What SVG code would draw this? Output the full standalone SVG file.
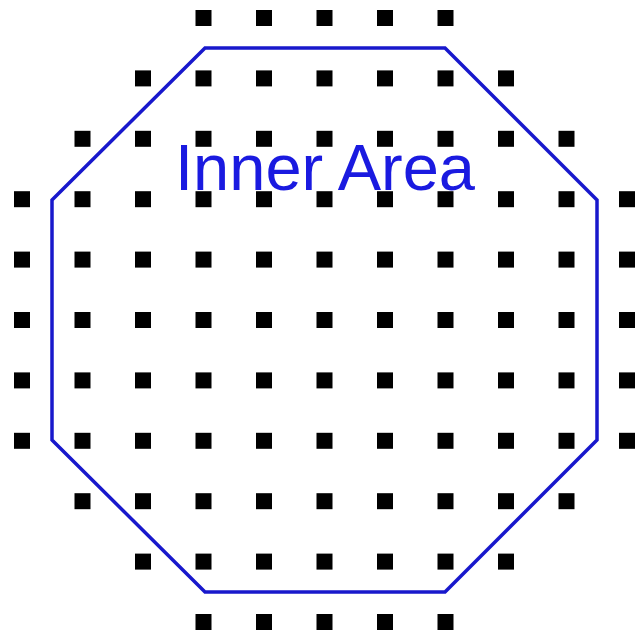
<svg xmlns="http://www.w3.org/2000/svg" xmlns:xlink="http://www.w3.org/1999/xlink" width="641" height="634" viewBox="0 0 641 634">
<style>
.area{fill:none;stroke:#1818cc;stroke-width:3.5;stroke-linejoin:miter}
.lbl{font-family:"Liberation Sans",Arial,sans-serif;font-size:65px;fill:#1a1ae0;text-anchor:middle}
</style>
<defs><rect id="d" x="-8" y="-8" width="16" height="16" fill="#000"/></defs>
<rect width="641" height="634" fill="#fff"/>
<g id="inner-area">
<polygon class="area" points="205,48 445,48 597,200 597,440 445,592 205,592 52,440 52,200"/>
<text class="lbl" x="325" y="190">Inner Area</text>
</g>
<g id="dots">
<use xlink:href="#d" x="203.5" y="18"/><use xlink:href="#d" x="264" y="18"/><use xlink:href="#d" x="324.5" y="18"/><use xlink:href="#d" x="385" y="18"/><use xlink:href="#d" x="445.5" y="18"/>
<use xlink:href="#d" x="143" y="78.4"/><use xlink:href="#d" x="203.5" y="78.4"/><use xlink:href="#d" x="264" y="78.4"/><use xlink:href="#d" x="324.5" y="78.4"/><use xlink:href="#d" x="385" y="78.4"/><use xlink:href="#d" x="445.5" y="78.4"/><use xlink:href="#d" x="506" y="78.4"/>
<use xlink:href="#d" x="82.5" y="138.8"/><use xlink:href="#d" x="143" y="138.8"/><use xlink:href="#d" x="203.5" y="138.8"/><use xlink:href="#d" x="264" y="138.8"/><use xlink:href="#d" x="324.5" y="138.8"/><use xlink:href="#d" x="385" y="138.8"/><use xlink:href="#d" x="445.5" y="138.8"/><use xlink:href="#d" x="506" y="138.8"/><use xlink:href="#d" x="566.5" y="138.8"/>
<use xlink:href="#d" x="22" y="199.2"/><use xlink:href="#d" x="82.5" y="199.2"/><use xlink:href="#d" x="143" y="199.2"/><use xlink:href="#d" x="203.5" y="199.2"/><use xlink:href="#d" x="264" y="199.2"/><use xlink:href="#d" x="324.5" y="199.2"/><use xlink:href="#d" x="385" y="199.2"/><use xlink:href="#d" x="445.5" y="199.2"/><use xlink:href="#d" x="506" y="199.2"/><use xlink:href="#d" x="566.5" y="199.2"/><use xlink:href="#d" x="627" y="199.2"/>
<use xlink:href="#d" x="22" y="259.6"/><use xlink:href="#d" x="82.5" y="259.6"/><use xlink:href="#d" x="143" y="259.6"/><use xlink:href="#d" x="203.5" y="259.6"/><use xlink:href="#d" x="264" y="259.6"/><use xlink:href="#d" x="324.5" y="259.6"/><use xlink:href="#d" x="385" y="259.6"/><use xlink:href="#d" x="445.5" y="259.6"/><use xlink:href="#d" x="506" y="259.6"/><use xlink:href="#d" x="566.5" y="259.6"/><use xlink:href="#d" x="627" y="259.6"/>
<use xlink:href="#d" x="22" y="320"/><use xlink:href="#d" x="82.5" y="320"/><use xlink:href="#d" x="143" y="320"/><use xlink:href="#d" x="203.5" y="320"/><use xlink:href="#d" x="264" y="320"/><use xlink:href="#d" x="324.5" y="320"/><use xlink:href="#d" x="385" y="320"/><use xlink:href="#d" x="445.5" y="320"/><use xlink:href="#d" x="506" y="320"/><use xlink:href="#d" x="566.5" y="320"/><use xlink:href="#d" x="627" y="320"/>
<use xlink:href="#d" x="22" y="380.4"/><use xlink:href="#d" x="82.5" y="380.4"/><use xlink:href="#d" x="143" y="380.4"/><use xlink:href="#d" x="203.5" y="380.4"/><use xlink:href="#d" x="264" y="380.4"/><use xlink:href="#d" x="324.5" y="380.4"/><use xlink:href="#d" x="385" y="380.4"/><use xlink:href="#d" x="445.5" y="380.4"/><use xlink:href="#d" x="506" y="380.4"/><use xlink:href="#d" x="566.5" y="380.4"/><use xlink:href="#d" x="627" y="380.4"/>
<use xlink:href="#d" x="22" y="440.8"/><use xlink:href="#d" x="82.5" y="440.8"/><use xlink:href="#d" x="143" y="440.8"/><use xlink:href="#d" x="203.5" y="440.8"/><use xlink:href="#d" x="264" y="440.8"/><use xlink:href="#d" x="324.5" y="440.8"/><use xlink:href="#d" x="385" y="440.8"/><use xlink:href="#d" x="445.5" y="440.8"/><use xlink:href="#d" x="506" y="440.8"/><use xlink:href="#d" x="566.5" y="440.8"/><use xlink:href="#d" x="627" y="440.8"/>
<use xlink:href="#d" x="82.5" y="501.2"/><use xlink:href="#d" x="143" y="501.2"/><use xlink:href="#d" x="203.5" y="501.2"/><use xlink:href="#d" x="264" y="501.2"/><use xlink:href="#d" x="324.5" y="501.2"/><use xlink:href="#d" x="385" y="501.2"/><use xlink:href="#d" x="445.5" y="501.2"/><use xlink:href="#d" x="506" y="501.2"/><use xlink:href="#d" x="566.5" y="501.2"/>
<use xlink:href="#d" x="143" y="561.6"/><use xlink:href="#d" x="203.5" y="561.6"/><use xlink:href="#d" x="264" y="561.6"/><use xlink:href="#d" x="324.5" y="561.6"/><use xlink:href="#d" x="385" y="561.6"/><use xlink:href="#d" x="445.5" y="561.6"/><use xlink:href="#d" x="506" y="561.6"/>
<use xlink:href="#d" x="203.5" y="622"/><use xlink:href="#d" x="264" y="622"/><use xlink:href="#d" x="324.5" y="622"/><use xlink:href="#d" x="385" y="622"/><use xlink:href="#d" x="445.5" y="622"/>
</g>
</svg>
